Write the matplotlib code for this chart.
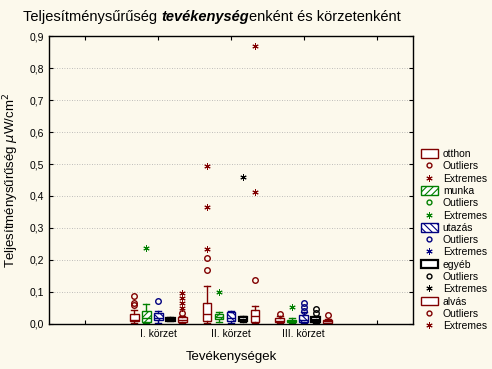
"""Boxplot: power density by activity and district."""

import matplotlib
matplotlib.use("Agg")
import matplotlib.pyplot as plt
from matplotlib.lines import Line2D
from matplotlib.patches import Patch

regions = ["I. körzet", "II. körzet", "III. körzet"]
activities = ["otthon", "munka", "utazás", "egyéb", "alvás"]

# box statistics per activity, one value per region
whislo = {
    "otthon": [0.003, 0.004, 0.002],
    "munka": [0.003, 0.006, 0.004],
    "utazás": [0.004, 0.004, 0.002],
    "egyéb": [0.008, 0.006, 0.003],
    "alvás": [0.003, 0.003, 0.002],
}
q1 = {
    "otthon": [0.008, 0.010, 0.005],
    "munka": [0.006, 0.015, 0.007],
    "utazás": [0.012, 0.008, 0.006],
    "egyéb": [0.010, 0.008, 0.006],
    "alvás": [0.006, 0.006, 0.004],
}
med = {
    "otthon": [0.014, 0.030, 0.010],
    "munka": [0.020, 0.022, 0.010],
    "utazás": [0.020, 0.020, 0.014],
    "egyéb": [0.015, 0.014, 0.012],
    "alvás": [0.012, 0.025, 0.008],
}
q3 = {
    "otthon": [0.031, 0.066, 0.018],
    "munka": [0.042, 0.030, 0.014],
    "utazás": [0.034, 0.037, 0.028],
    "egyéb": [0.020, 0.022, 0.022],
    "alvás": [0.022, 0.045, 0.012],
}
whishi = {
    "otthon": [0.045, 0.119, 0.024],
    "munka": [0.062, 0.038, 0.020],
    "utazás": [0.040, 0.040, 0.036],
    "egyéb": [0.022, 0.024, 0.025],
    "alvás": [0.026, 0.055, 0.016],
}
outliers = {
    "otthon": [[0.088, 0.066, 0.058], [0.206, 0.169], [0.030]],
    "munka": [[], [], []],
    "utazás": [[0.072], [], [0.066, 0.053, 0.040]],
    "egyéb": [[], [], [0.047, 0.034]],
    "alvás": [[0.035], [0.138], [0.028]],
}
extremes = {
    "otthon": [[], [0.494, 0.366, 0.234], []],
    "munka": [[0.236], [0.100], [0.053]],
    "utazás": [[], [], []],
    "egyéb": [[], [0.458], []],
    "alvás": [[0.097, 0.080, 0.065, 0.050], [0.870, 0.412], []],
}

colors = {
    "otthon": "#800000",
    "munka": "#008000",
    "utazás": "#000080",
    "egyéb": "#000000",
    "alvás": "#800000",
}
hatches = {"otthon": None, "munka": "/////", "utazás": "\\\\\\\\\\",
           "egyéb": None, "alvás": None}
y_ticks = [0.0, 0.1, 0.2, 0.3, 0.4, 0.5, 0.6, 0.7, 0.8, 0.9]

bg = "#fcf9ec"
plt.rcParams["font.family"] = ["Liberation Sans", "DejaVu Sans"]
plt.rcParams["hatch.linewidth"] = 0.8

fig = plt.figure(figsize=(4.92, 3.69), dpi=100, facecolor=bg)
ax = fig.add_axes([0.0996, 0.122, 0.7398, 0.7804], facecolor=bg)

centers = [1.5, 2.5, 3.5]
offsets = [-0.33, -0.165, 0.0, 0.165, 0.33]
width = 0.12

asterisk = (6, 2, 0)
handles = []
for act, off in zip(activities, offsets):
    col = colors[act]
    pos = [c + off for c in centers]
    stats = []
    for i in range(len(regions)):
        stats.append({
            "whislo": whislo[act][i], "q1": q1[act][i], "med": med[act][i],
            "q3": q3[act][i], "whishi": whishi[act][i], "fliers": [],
        })
    lw = 1.6 if act == "egyéb" else 1.0
    ax.bxp(
        stats, positions=pos, widths=width, capwidths=width * 0.7,
        patch_artist=True, showfliers=False, manage_ticks=False,
        boxprops=dict(facecolor="white", edgecolor=col, linewidth=lw,
                      hatch=hatches[act]),
        medianprops=dict(color=col, linewidth=lw),
        whiskerprops=dict(color=col, linewidth=1.0),
        capprops=dict(color=col, linewidth=1.0),
    )
    for i, p in enumerate(pos):
        if outliers[act][i]:
            ax.plot([p] * len(outliers[act][i]), outliers[act][i], ls="none",
                    marker="o", ms=4, mfc="none", mec=col, mew=1.0)
        if extremes[act][i]:
            ax.plot([p] * len(extremes[act][i]), extremes[act][i], ls="none",
                    marker=asterisk, ms=4.5, mec=col, mew=0.7)
    handles.append(Patch(facecolor="white", edgecolor=col, hatch=hatches[act],
                         linewidth=lw, label=act))
    handles.append(Line2D([], [], ls="none", marker="o", ms=3.5, mfc="none",
                          mec=col, label="Outliers"))
    handles.append(Line2D([], [], ls="none", marker=asterisk, ms=4.5, mec=col,
                          mew=0.7, label="Extremes"))

ax.set_xlim(0, 5)
ax.set_ylim(0, 0.9)
ax.set_xticks([0.5, 1.5, 2.5, 3.5, 4.5])
ax.set_xticklabels(["", *regions, ""], fontsize=7.5)
ax.set_yticks(y_ticks)
ax.set_yticklabels([f"{v:.1f}".replace(".", ",") for v in y_ticks], fontsize=7.5)
ax.tick_params(direction="in", top=True, right=True, length=3, width=0.8)
ax.grid(axis="y", color="#aaaaaa", linestyle=(0, (1, 2)), linewidth=0.6)
for spine in ax.spines.values():
    spine.set_linewidth(1.0)

ax.set_xlabel("Tevékenységek", fontsize=9.5, labelpad=9)
ax.set_ylabel("Teljesítménysűrűség $\\mu$W/cm$^2$", fontsize=9.5, labelpad=6)

# title with a bold italic word in the middle
t1 = fig.text(0.047, 0.955, "Teljesítménysűrűség ", fontsize=10.5, va="center")
fig.canvas.draw()
r = fig.canvas.get_renderer()
bb = t1.get_window_extent(r)
t2 = fig.text(bb.x1 / fig.bbox.width, 0.955, "tevékenység", fontsize=10.5,
              va="center", fontweight="bold", fontstyle="italic")
bb = t2.get_window_extent(r)
fig.text(bb.x1 / fig.bbox.width, 0.955, "enként és körzetenként",
         fontsize=10.5, va="center")

fig.legend(handles=handles, loc="upper left", bbox_to_anchor=(0.845, 0.61),
           frameon=False, fontsize=7.5, handlelength=1.6, handleheight=0.9,
           labelspacing=0.22, handletextpad=0.5, borderpad=0)

fig.savefig("out.png", dpi=100, facecolor=bg)
